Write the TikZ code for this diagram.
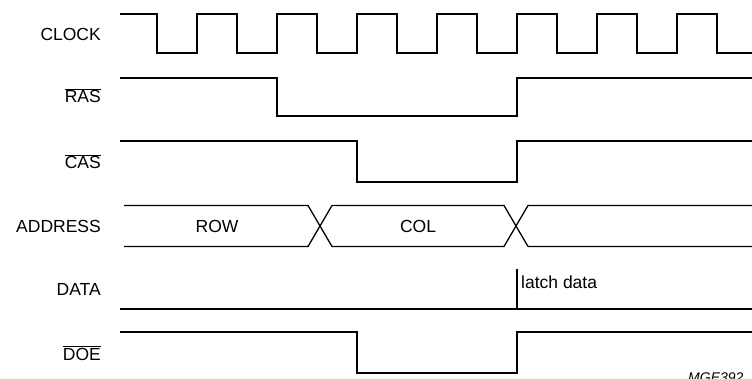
\documentclass[tikz,border=0pt]{standalone}
\usepackage{fontspec}
\setmainfont{Liberation Sans}
\begin{document}
\begin{tikzpicture}[x=1pt,y=-1pt,
  sig/.style={line width=1.3pt, line join=miter},
  lbl/.style={anchor=base east, inner sep=0pt, font=\fontsize{17.5}{20}\selectfont},
  txt/.style={anchor=base, inner sep=0pt, font=\fontsize{17.5}{20}\selectfont}]
\useasboundingbox (0,0) rectangle (752,379);
% labels
\node[lbl] (lclk) at (101,41) {CLOCK};
\node[lbl] (lras) at (101,103) {$\overline{\mbox{RAS}}$};
\node[lbl] (lcas) at (101,169) {$\overline{\mbox{CAS}}$};
\node[lbl] (ladr) at (101,233) {ADDRESS};
\node[lbl] (ldat) at (101,295) {DATA};
\node[lbl] (ldoe) at (101,360) {$\overline{\mbox{DOE}}$};
\node[txt] (row) at (217,233) {ROW};
\node[txt] (col) at (418,233) {COL};
\node[txt, anchor=base west] (latch) at (521,288) {latch data};
\node[anchor=base west, inner sep=0pt, font=\fontsize{14}{16}\selectfont\itshape] (mge) at (688,382) {MGE392};
% CLOCK
\draw[sig] (120,14) -| (157,53) -| (197,14) -| (237,53) -| (277,14) -| (317,53) -| (357,14) -| (397,53) -| (437,14) -| (477,53) -| (517,14) -| (557,53) -| (597,14) -| (637,53) -| (677,14) -| (717,53) -- (752,53);
% RAS
\draw[sig] (120,78) -| (277,116) -| (517,78) -- (752,78);
% CAS
\draw[sig] (120,141) -| (357,182) -| (517,141) -- (752,141);
% ADDRESS
\draw[sig] (124,205.5) -- (308,205.5) -- (332,246.5) -- (504,246.5) -- (528,205.5) -- (752,205.5);
\draw[sig] (124,246.5) -- (308,246.5) -- (332,205.5) -- (504,205.5) -- (528,246.5) -- (752,246.5);
% DATA
\draw[sig] (120,309) -- (752,309);
\coordinate (tick) at (517,269);
\draw[sig] (tick) -- (517,309);
% DOE
\draw[sig] (120,332) -| (357,373) -| (517,332) -- (752,332);
\end{tikzpicture}
\end{document}
